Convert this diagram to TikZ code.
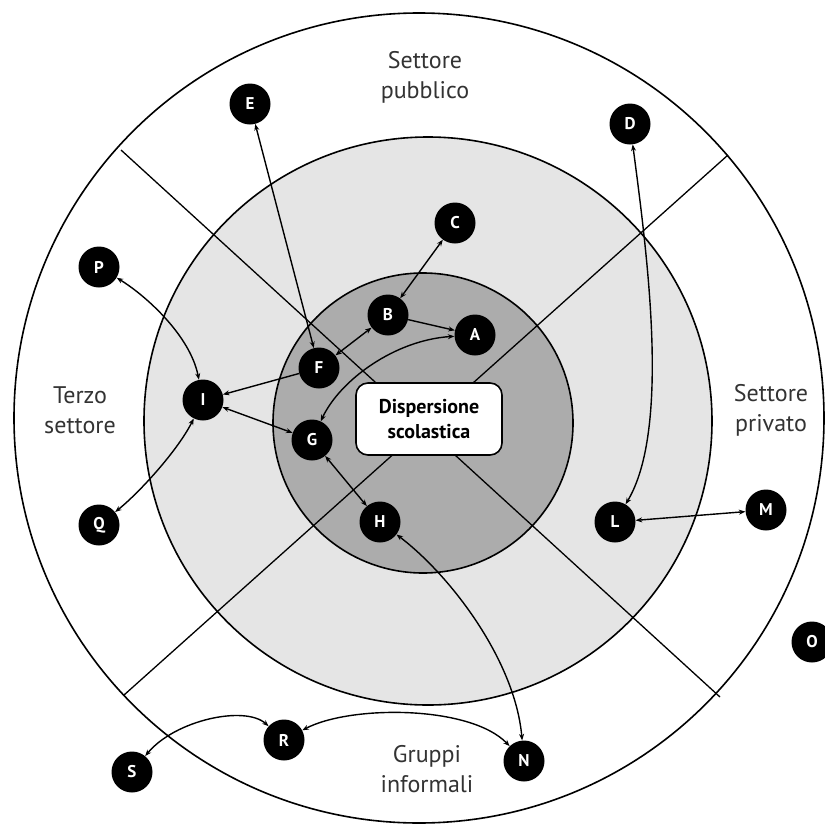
\documentclass[tikz,border=0pt]{standalone}
\usepackage{fontspec}
\setmainfont{PT Sans}
\usetikzlibrary{arrows.meta}
\begin{document}
\begin{tikzpicture}[x=1pt,y=-1pt,
  >={Stealth[length=6.5pt,width=5pt]},
  actor/.style={circle,fill=black,minimum size=41pt,inner sep=0pt,text=white,font=\bfseries\fontsize{17}{17}\selectfont},
  conn/.style={line width=1.4pt,black},
  ring/.style={line width=1.6pt,draw=black},
  divider/.style={line width=1.3pt,black},
  sector/.style={font=\fontsize{24}{30}\selectfont,text=black!80,align=center},
  centre/.style={draw=black,line width=1.6pt,fill=white,rounded corners=12pt,minimum width=146pt,minimum height=72pt,align=center,inner sep=0pt,font=\bfseries\fontsize{20}{25}\selectfont}
]
\path[use as bounding box] (0,0) rectangle (825,825);
\clip (0,0) rectangle (825,825);
\fill[white] (0,0) rectangle (825,825);
% rings
\draw[ring,fill=white] (419,418) circle[radius=405];
\draw[ring,fill=gray!20] (428,421) circle[radius=284];
\draw[ring,fill=gray!65] (423,423) circle[radius=150];
% dividers
\coordinate (d1a) at (121,150);
\coordinate (d1b) at (720,697);
\coordinate (d2a) at (728,155);
\coordinate (d2b) at (124,695);
\draw[divider] (d1a) -- (d1b);
\draw[divider] (d2a) -- (d2b);
% centre
\node[centre] (disp) at (429,419) {Dispersione\\scolastica};
% sector labels
\node[sector] (pub) at (425,77) {Settore\\pubblico};
\node[sector] (terzo) at (80,410) {Terzo\\settore};
\node[sector] (priv) at (771,410) {Settore\\privato};
\node[sector] (grup) at (427,769) {Gruppi\\informali};
% actors
\node[actor] (A) at (475,335) {A};
\node[actor] (B) at (388,315) {B};
\node[actor] (C) at (455,223) {C};
\node[actor] (D) at (630,124) {D};
\node[actor] (E) at (250,104) {E};
\node[actor] (F) at (319,368) {F};
\node[actor] (G) at (312,440) {G};
\node[actor] (H) at (380,522) {H};
\node[actor] (I) at (203,400) {I};
\node[actor] (L) at (615,522) {L};
\node[actor] (M) at (766,510) {M};
\node[actor] (N) at (524,761) {N};
\node[actor] (O) at (812,642) {O};
\node[actor] (P) at (99,267) {P};
\node[actor] (Q) at (99,525) {Q};
\node[actor] (R) at (284,740) {R};
\node[actor] (S) at (132,772) {S};
% connectors
\draw[conn,<->] (E) -- (F);
\draw[conn,<->] (P) .. controls (145,295) and (190,335) .. (I);
\draw[conn,->] (F) -- (I);
\draw[conn,<->] (F) -- (B);
\draw[conn,<->] (C) -- (B);
\draw[conn,->] (B) -- (A);
\draw[conn,<->] (G) .. controls (340,380) and (395,340) .. (A);
\draw[conn,<->] (I) -- (G);
\draw[conn,<->] (I) .. controls (178,450) and (140,492) .. (Q);
\draw[conn,<->] (G) -- (H);
\draw[conn,<->] (H) .. controls (450,575) and (515,660) .. (N);
\draw[conn,<->] (D) .. controls (648,260) and (670,430) .. (L);
\draw[conn,<->] (L) -- (M);
\draw[conn,<->] (R) .. controls (350,705) and (470,705) .. (N);
\draw[conn,<->] (S) .. controls (175,720) and (245,705) .. (R);
\end{tikzpicture}
\end{document}
